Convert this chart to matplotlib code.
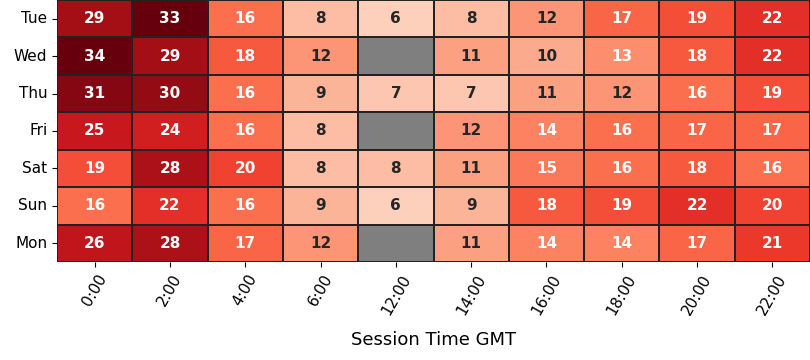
import numpy as np
import pandas as pd
import matplotlib
matplotlib.use("Agg")
import matplotlib.pyplot as plt
import seaborn as sns

days = ["Tue", "Wed", "Thu", "Fri", "Sat", "Sun", "Mon"]
hours = ["0:00", "2:00", "4:00", "6:00", "12:00", "14:00", "16:00", "18:00", "20:00", "22:00"]
tue = [29, 33, 16, 8, 6, 8, 12, 17, 19, 22]
wed = [34, 29, 18, 12, np.nan, 11, 10, 13, 18, 22]
thu = [31, 30, 16, 9, 7, 7, 11, 12, 16, 19]
fri = [25, 24, 16, 8, np.nan, 12, 14, 16, 17, 17]
sat = [19, 28, 20, 8, 8, 11, 15, 16, 18, 16]
sun = [16, 22, 16, 9, 6, 9, 18, 19, 22, 20]
mon = [26, 28, 17, 12, np.nan, 11, 14, 14, 17, 21]

df = pd.DataFrame([tue, wed, thu, fri, sat, sun, mon], index=days, columns=hours)

fig = plt.figure(figsize=(8.1, 3.6), dpi=100)
ax = fig.add_axes([57/810, 1 - 262/360, (810-57)/810, 262/360])
ax.set_facecolor("#7f7f7f")
sns.heatmap(df, ax=ax, cmap="Reds", vmin=0, vmax=33, annot=True, fmt=".0f",
            annot_kws={"fontsize": 11, "fontweight": "bold"},
            linewidths=1.2, linecolor="#222222", cbar=False)
ax.set_xlabel("Session Time GMT", fontsize=13, labelpad=10)
ax.set_ylabel("")
ax.tick_params(axis="x", labelrotation=60, labelsize=11)
ax.tick_params(axis="y", labelrotation=0, labelsize=11)
fig.savefig("out.png", dpi=100)
